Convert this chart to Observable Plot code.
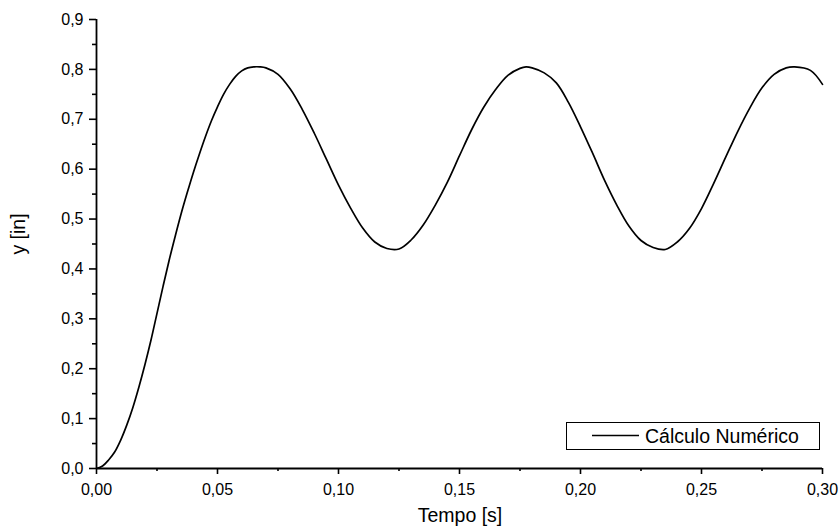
<!DOCTYPE html>
<html>
<head>
<meta charset="utf-8">
<script src="https://cdn.jsdelivr.net/npm/d3@7"></script>
<script src="https://cdn.jsdelivr.net/npm/@observablehq/plot@0.6"></script>
<style>
  html, body { margin: 0; padding: 0; background: #fff; }
  #chart { width: 840px; height: 529px; }
  svg { font-family: "Liberation Sans", Arial, sans-serif; }
</style>
</head>
<body>
<div id="chart"></div>
<script>
// Time (s)
const tempo = [
  0.0000, 0.0025, 0.0050, 0.0075, 0.0100, 0.0125, 0.0150, 0.0175, 0.0200, 0.0225,
  0.0250, 0.0275, 0.0300, 0.0325, 0.0350, 0.0375, 0.0400, 0.0425, 0.0450, 0.0475,
  0.0500, 0.0525, 0.0550, 0.0575, 0.0600, 0.0625, 0.0650, 0.0675, 0.0700, 0.0750,
  0.0800, 0.0850, 0.0900, 0.0950, 0.1000, 0.1050, 0.1100, 0.1150, 0.1200, 0.1250,
  0.1300, 0.1350, 0.1400, 0.1450, 0.1500, 0.1550, 0.1600, 0.1650, 0.1700, 0.1750,
  0.1775, 0.1800, 0.1850, 0.1900, 0.1950, 0.2000, 0.2050, 0.2100, 0.2150, 0.2200,
  0.2250, 0.2300, 0.2350, 0.2400, 0.2450, 0.2500, 0.2550, 0.2600, 0.2650, 0.2700,
  0.2750, 0.2800, 0.2850, 0.2885, 0.2950, 0.3000
];
// y (in)
const deslocamento = [
  0.000, 0.005, 0.017, 0.033, 0.057, 0.087, 0.122, 0.163, 0.208, 0.257,
  0.311, 0.365, 0.417, 0.465, 0.511, 0.553, 0.593, 0.630, 0.665, 0.697,
  0.725, 0.750, 0.770, 0.786, 0.797, 0.803, 0.805, 0.805, 0.803, 0.790,
  0.761, 0.720, 0.672, 0.620, 0.568, 0.522, 0.482, 0.454, 0.441, 0.440,
  0.458, 0.488, 0.528, 0.574, 0.627, 0.679, 0.724, 0.760, 0.788, 0.802,
  0.805, 0.803, 0.793, 0.773, 0.734, 0.685, 0.632, 0.577, 0.528, 0.486,
  0.457, 0.443, 0.439, 0.454, 0.481, 0.521, 0.571, 0.624, 0.676, 0.723,
  0.763, 0.790, 0.803, 0.805, 0.798, 0.770
];
const xTicks = [0, 0.05, 0.10, 0.15, 0.20, 0.25, 0.30];
const xMinorTicks = [0.025, 0.075, 0.125, 0.175, 0.225, 0.275];
const yTicks = [0, 0.1, 0.2, 0.3, 0.4, 0.5, 0.6, 0.7, 0.8, 0.9];
const yMinorTicks = [0.05, 0.15, 0.25, 0.35, 0.45, 0.55, 0.65, 0.75, 0.85];
const seriesName = "Cálculo Numérico";
const xTitle = "Tempo [s]";
const yTitle = "y [in]";

const data = tempo.map((t, i) => ({t, v: deslocamento[i]}));
const fmt = (d, n) => d.toFixed(n).replace(".", ",");

const plot = Plot.plot({
  width: 840,
  height: 529,
  marginLeft: 96,
  marginRight: 18,
  marginTop: 19,
  marginBottom: 61,
  style: {fontFamily: '"Liberation Sans", Arial, sans-serif', fontSize: "16px", color: "#000", background: "#fff"},
  x: {domain: [0, 0.3]},
  y: {domain: [0, 0.9]},
  marks: [
    Plot.axisX({ticks: xMinorTicks, tickSize: 3, tickFormat: () => "", strokeWidth: 1.6, label: null}),
    Plot.axisX({ticks: xTicks, tickSize: 6, tickPadding: 9, tickFormat: d => fmt(d, 2), strokeWidth: 1.6, fontSize: 16, label: null}),
    Plot.axisY({ticks: yMinorTicks, tickSize: 4, tickFormat: () => "", strokeWidth: 1.6, label: null}),
    Plot.axisY({ticks: yTicks, tickSize: 7, tickPadding: 6, tickFormat: d => fmt(d, 1), strokeWidth: 1.6, fontSize: 16, label: null}),
    Plot.ruleY([0], {stroke: "#000", strokeWidth: 1.8}),
    Plot.ruleX([0], {stroke: "#000", strokeWidth: 1.8}),
    Plot.line(data, {x: "t", y: "v", stroke: "#000", strokeWidth: 1.7, curve: "catmull-rom"})
  ]
});

document.getElementById("chart").appendChild(plot);

const svg = d3.select(plot);
const font = '"Liberation Sans", Arial, sans-serif';
// Axis titles
svg.append("text")
  .attr("x", 460).attr("y", 522)
  .attr("text-anchor", "middle")
  .attr("font-family", font).attr("font-size", 19.5)
  .attr("fill", "#000")
  .text(xTitle);
svg.append("text")
  .attr("transform", "translate(25,234) rotate(-90)")
  .attr("text-anchor", "middle")
  .attr("font-family", font).attr("font-size", 19.5)
  .attr("fill", "#000")
  .text(yTitle);
// Legend
const lg = svg.append("g");
lg.append("rect")
  .attr("x", 566.5).attr("y", 422.5).attr("width", 253).attr("height", 27)
  .attr("fill", "#fff").attr("stroke", "#000").attr("stroke-width", 1);
lg.append("line")
  .attr("x1", 592).attr("x2", 639).attr("y1", 435.5).attr("y2", 435.5)
  .attr("stroke", "#000").attr("stroke-width", 1.7);
lg.append("text")
  .attr("x", 645).attr("y", 443)
  .attr("text-anchor", "start")
  .attr("font-family", font).attr("font-size", 19.5)
  .attr("fill", "#000")
  .text(seriesName);
</script>
</body>
</html>
